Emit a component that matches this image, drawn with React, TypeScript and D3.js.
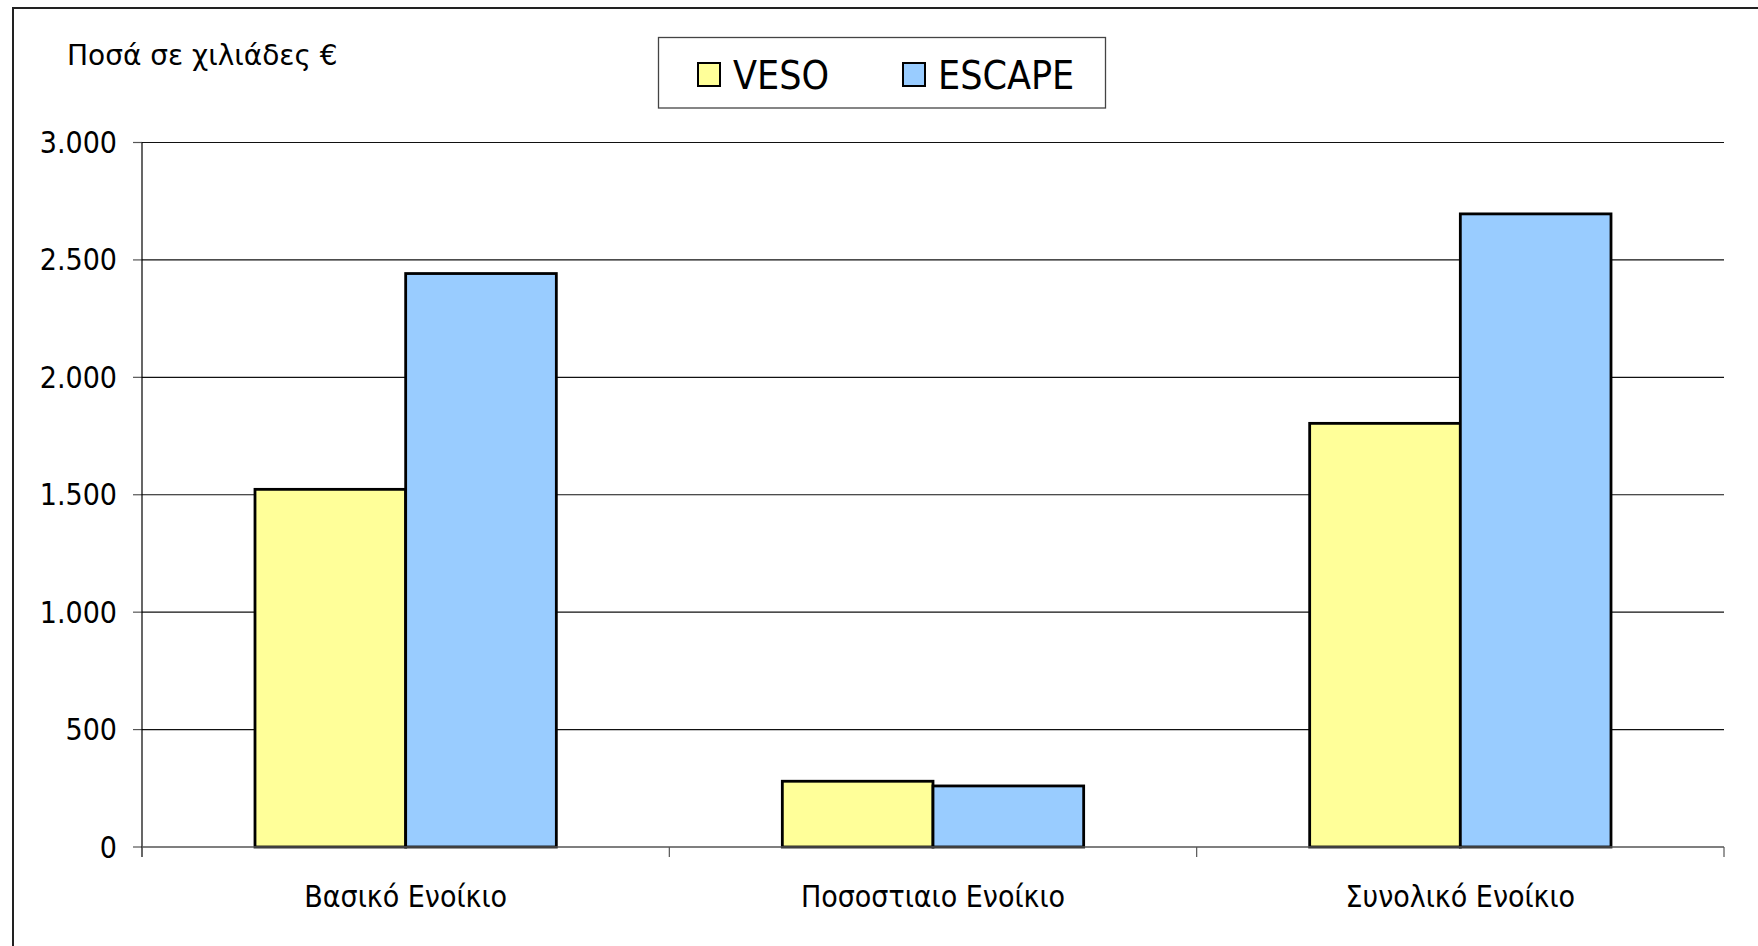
import { useRef, useEffect } from "react";
import * as d3 from "d3";

const categories = ["Βασικό Ενοίκιο", "Ποσοστιαιο Ενοίκιο", "Συνολικό Ενοίκιο"];
const seriesNames = ["VESO", "ESCAPE"];
const vesoValues = [1523, 280, 1804];
const escapeValues = [2442, 260, 2696];
const seriesColors = ["#FFFF99", "#99CCFF"];
const yTicks = [0, 500, 1000, 1500, 2000, 2500, 3000];
const yTitle = "Ποσά σε χιλιάδες €";

const W = 1758;
const H = 946;
const FONT = "'DejaVu Sans Condensed', 'DejaVu Sans', Tahoma, sans-serif";
const FONT_WIDE = "'DejaVu Sans', Tahoma, sans-serif";

export default function App() {
  const svgRef = useRef<SVGSVGElement>(null);

  useEffect(() => {
    if (!svgRef.current) return;
    const svg = d3.select(svgRef.current);
    svg.selectAll("*").remove();

    const plot = { left: 142, right: 1724, top: 142.5, bottom: 847 };

    // outer chart frame (only left and top visible)
    svg.append("path")
      .attr("d", `M13,${H} L13,8 L${W},8`)
      .attr("fill", "none")
      .attr("stroke", "#222")
      .attr("stroke-width", 2);

    const y = d3.scaleLinear().domain([0, 3000]).range([plot.bottom, plot.top]);
    const x0 = d3.scaleBand().domain(categories).range([plot.left, plot.right]).paddingInner(0).paddingOuter(0);
    // excel gap width ~150%
    const barW = x0.bandwidth() / (2 + 1.5);

    const data = categories.map((c, i) => ({ cat: c, vals: [vesoValues[i], escapeValues[i]] }));

    // gridlines
    svg.append("g")
      .selectAll("line")
      .data(yTicks.filter((t) => t > 0))
      .join("line")
      .attr("x1", plot.left)
      .attr("x2", plot.right)
      .attr("y1", (d) => y(d))
      .attr("y2", (d) => y(d))
      .attr("stroke", "#111")
      .attr("stroke-width", 1.2);

    // y ticks + labels
    const yAxis = svg.append("g");
    yTicks.forEach((t) => {
      yAxis.append("line")
        .attr("x1", plot.left - 9)
        .attr("x2", plot.left)
        .attr("y1", y(t))
        .attr("y2", y(t))
        .attr("stroke", "#555")
        .attr("stroke-width", 1.2);
      yAxis.append("text")
        .attr("x", 117)
        .attr("y", y(t))
        .attr("text-anchor", "end")
        .attr("dominant-baseline", "central")
        .attr("font-family", FONT)
        .attr("font-size", 30)
        .attr("fill", "#000")
        .text(d3.format(",")(t).replace(/,/g, "."));
    });

    // bars
    data.forEach((d) => {
      const start = (x0(d.cat) as number) + (x0.bandwidth() - 2 * barW) / 2;
      d.vals.forEach((v, j) => {
        svg.append("rect")
          .attr("x", start + j * barW)
          .attr("y", y(v))
          .attr("width", barW)
          .attr("height", y(0) - y(v))
          .attr("fill", seriesColors[j])
          .attr("stroke", "#000")
          .attr("stroke-width", 2.8);
      });
    });

    // axis lines
    svg.append("line")
      .attr("x1", plot.left).attr("x2", plot.left)
      .attr("y1", plot.top).attr("y2", plot.bottom + 10)
      .attr("stroke", "#000").attr("stroke-width", 1.2);
    svg.append("line")
      .attr("x1", plot.left).attr("x2", plot.right)
      .attr("y1", plot.bottom).attr("y2", plot.bottom)
      .attr("stroke", "#555").attr("stroke-width", 1.4);

    // category ticks at band boundaries
    const boundaries = categories.map((c) => x0(c) as number).concat([plot.right]);
    svg.append("g")
      .selectAll("line")
      .data(boundaries.slice(1))
      .join("line")
      .attr("x1", (d) => d)
      .attr("x2", (d) => d)
      .attr("y1", plot.bottom)
      .attr("y2", plot.bottom + 10)
      .attr("stroke", "#555")
      .attr("stroke-width", 1.2);

    // category labels
    svg.append("g")
      .selectAll("text")
      .data(categories)
      .join("text")
      .attr("x", (d) => (x0(d) as number) + x0.bandwidth() / 2)
      .attr("y", 907)
      .attr("text-anchor", "middle")
      .attr("font-family", FONT)
      .attr("font-size", 30)
      .attr("fill", "#000")
      .text((d) => d);

    // y title
    svg.append("text")
      .attr("x", 67)
      .attr("y", 65)
      .attr("font-family", FONT_WIDE)
      .attr("font-size", 28)
      .attr("fill", "#000")
      .text(yTitle);

    // legend
    const lg = svg.append("g");
    lg.append("rect")
      .attr("x", 658.5)
      .attr("y", 37.5)
      .attr("width", 447)
      .attr("height", 70.5)
      .attr("fill", "#fff")
      .attr("stroke", "#444")
      .attr("stroke-width", 1.3);
    const legendX = [698, 903];
    seriesNames.forEach((n, i) => {
      lg.append("rect")
        .attr("x", legendX[i])
        .attr("y", 63)
        .attr("width", 22)
        .attr("height", 23)
        .attr("fill", seriesColors[i])
        .attr("stroke", "#000")
        .attr("stroke-width", 2);
      lg.append("text")
        .attr("x", legendX[i] + 35)
        .attr("y", 89)
        .attr("font-family", FONT)
        .attr("font-size", 39)
        .attr("fill", "#000")
        .text(n);
    });
  }, []);

  return (
    <div style={{ position: "absolute", left: 0, top: 0, background: "#fff" }}>
      <svg ref={svgRef} width={W} height={H} style={{ display: "block" }} />
    </div>
  );
}
